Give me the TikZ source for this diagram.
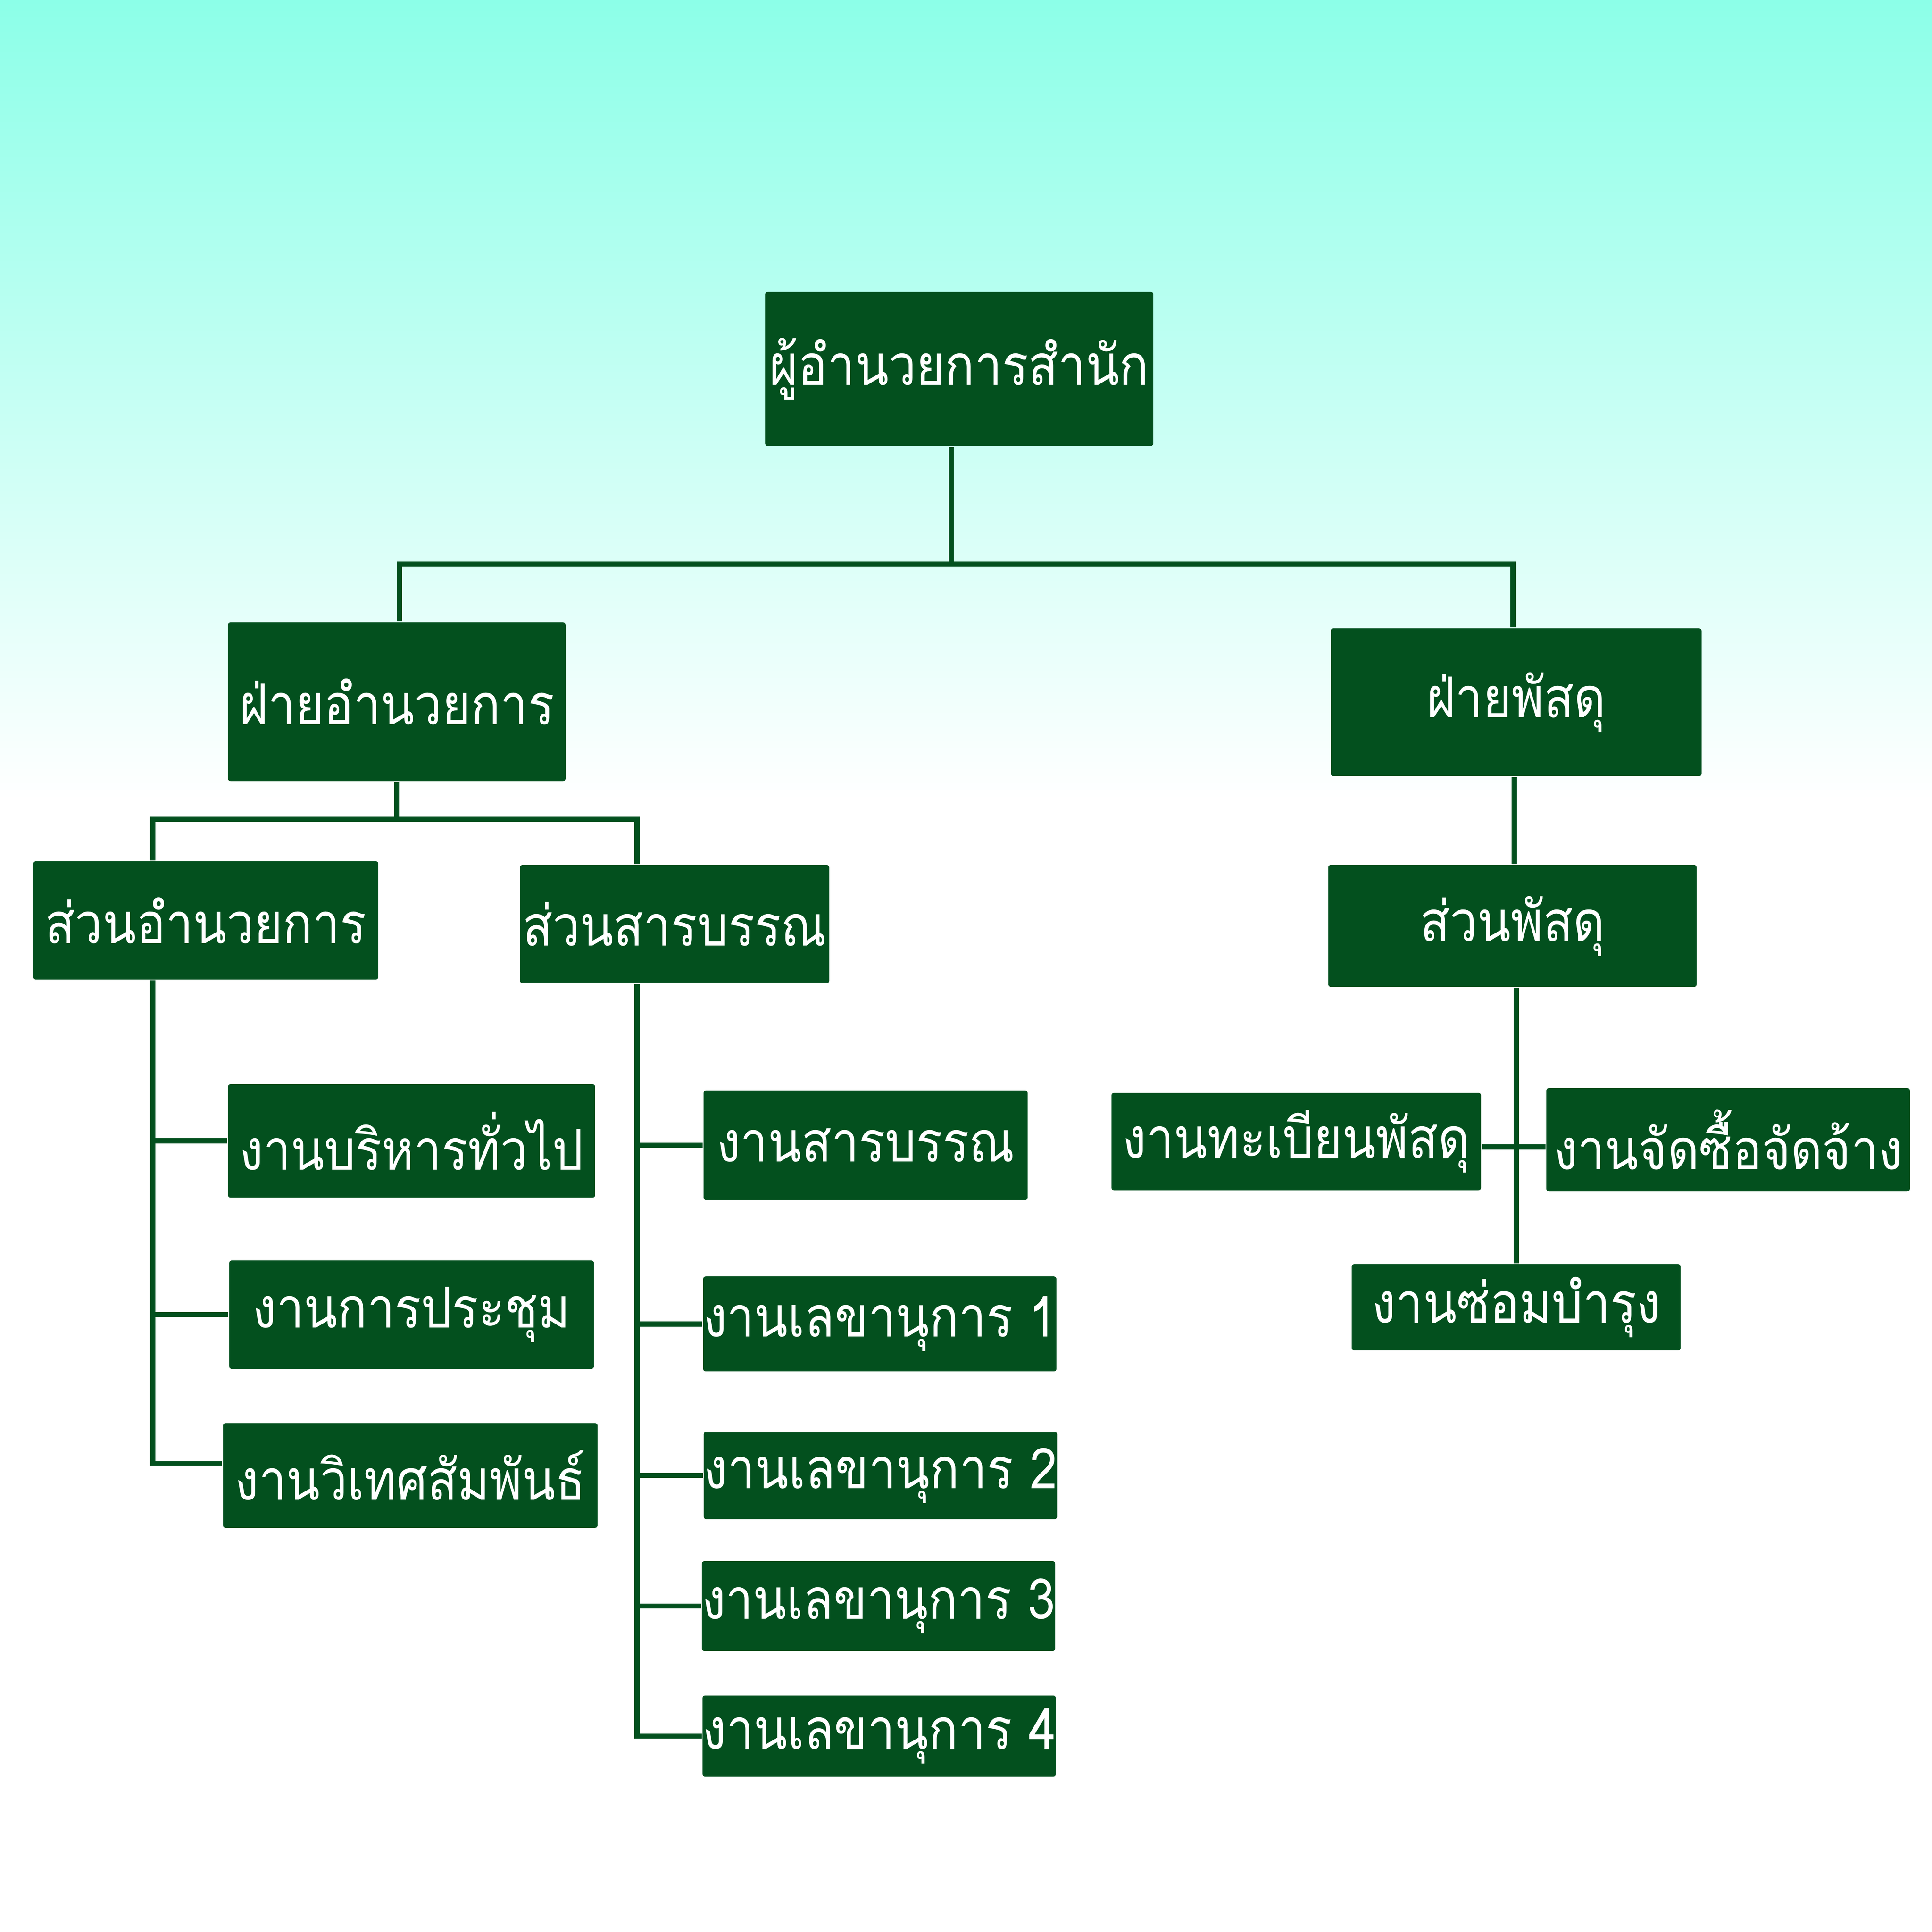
\documentclass[tikz,border=0pt]{standalone}
\usepackage{fontspec}
\newfontfamily\thaifont[Script=Thai, FakeStretch=0.87]{Loma}
\definecolor{boxgreen}{HTML}{03501E}
\definecolor{bgtop}{HTML}{8CFFE8}
\pgfdeclareverticalshading{bgfade}{100bp}{color(0bp)=(white); color(54.3bp)=(white); color(75bp)=(bgtop); color(100bp)=(bgtop)}
\tikzset{
  box/.style={fill=boxgreen, rounded corners=0.6pt, text=white, inner sep=0pt,
    font=\thaifont\fontsize{13}{15}\selectfont},
  link/.style={draw=boxgreen, line width=1.2pt}
}
\begin{document}
\begin{tikzpicture}
   \shade[shading=bgfade] (0,0) rectangle (15.68,15.68);

   \node[box, minimum width=3.15cm, minimum height=1.25cm] (dir) at (7.785,12.685) {ผู้อำนวยการสำนัก};
   \node[box, minimum width=2.74cm, minimum height=1.29cm] (fadmin) at (3.22,9.985) {ฝ่ายอำนวยการ};
   \node[box, minimum width=3.01cm, minimum height=1.20cm] (fsupply) at (12.305,9.98) {ฝ่ายพัสดุ};
   \node[box, minimum width=2.80cm, minimum height=0.96cm] (sadmin) at (1.67,8.21) {ส่วนอำนวยการ};
   \node[box, minimum width=2.51cm, minimum height=0.96cm] (sdoc) at (5.475,8.18) {ส่วนสารบรรณ};
   \node[box, minimum width=2.99cm, minimum height=0.99cm] (ssupply) at (12.275,8.165) {ส่วนพัสดุ};
   \node[box, minimum width=2.98cm, minimum height=0.92cm] (w1) at (3.34,6.42) {งานบริหารทั่วไป};
   \node[box, minimum width=2.96cm, minimum height=0.88cm] (w2) at (3.34,5.01) {งานการประชุม};
   \node[box, minimum width=3.04cm, minimum height=0.85cm] (w3) at (3.33,3.705) {งานวิเทศสัมพันธ์};
   \node[box, minimum width=2.63cm, minimum height=0.89cm] (d1) at (7.025,6.385) {งานสารบรรณ};
   \node[box, minimum width=2.86cm, minimum height=0.77cm] (d2) at (7.14,4.935) {งานเลขานุการ 1};
   \node[box, minimum width=2.85cm, minimum height=0.71cm] (d3) at (7.145,3.705) {งานเลขานุการ 2};
   \node[box, minimum width=2.86cm, minimum height=0.73cm] (d4) at (7.13,2.645) {งานเลขานุการ 3};
   \node[box, minimum width=2.85cm, minimum height=0.66cm] (d5) at (7.135,1.59) {งานเลขานุการ 4};
   \node[box, minimum width=3.00cm, minimum height=0.79cm] (p1) at (10.52,6.415) {งานทะเบียนพัสดุ};
   \node[box, minimum width=2.95cm, minimum height=0.84cm] (p2) at (14.025,6.43) {งานจัดซื้อจัดจ้าง};
   \node[box, minimum width=2.67cm, minimum height=0.70cm] (p3) at (12.305,5.07) {งานซ่อมบำรุง};

   \coordinate (j1) at (7.72,11.10);
   \coordinate (j2) at (3.22,9.03);
   \coordinate (sa) at ([xshift=-0.43cm]sadmin.south);
   \coordinate (sd) at ([xshift=-0.305cm]sdoc.south);

   \draw[link] ([xshift=-0.065cm]dir.south) -- (j1);
   \draw[link] ([xshift=0.02cm]fadmin.north) |- (j1) -| ([xshift=-0.025cm]fsupply.north);
   \draw[link] (fadmin.south) -- (j2);
   \draw[link] ([xshift=-0.43cm]sadmin.north) |- (j2) -| ([xshift=-0.305cm]sdoc.north);
   \draw[link] (sa) |- ([yshift=0.095cm]w3.west);
   \foreach \n in {w1,w2}
      \draw[link] (\n.west) -- (\n.west -| sa);
   \draw[link] (sd) |- (d5.west);
   \foreach \n in {d1,d2,d3,d4}
      \draw[link] (\n.west) -- (\n.west -| sd);
   \draw[link] ([xshift=-0.015cm]fsupply.south) -- ([xshift=-0.015cm]fsupply.south |- ssupply.north);
   \draw[link] (p3.north) -- (p3.north |- ssupply.south);
   \draw[link] ([yshift=-0.045cm]p1.east) -- ([yshift=-0.045cm]p1.east -| p2.west);
\end{tikzpicture}
\end{document}
